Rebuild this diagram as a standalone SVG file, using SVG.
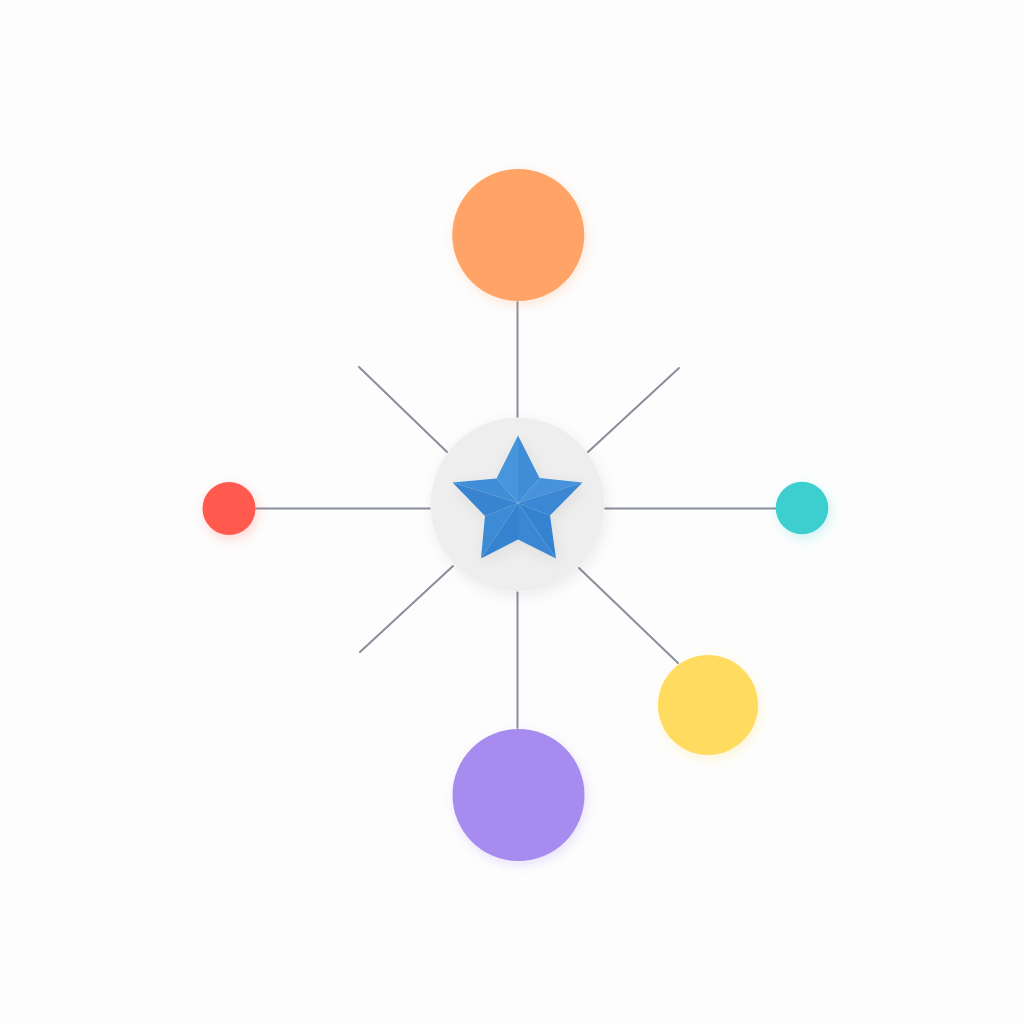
<svg xmlns="http://www.w3.org/2000/svg" width="1024" height="1024" viewBox="0 0 1024 1024">
<defs>
<filter id="sh" x="-50%" y="-50%" width="200%" height="200%">
<feGaussianBlur in="SourceAlpha" stdDeviation="7"/>
<feOffset dx="2" dy="4" result="b"/>
<feFlood flood-color="#000" flood-opacity="0.07"/>
<feComposite in2="b" operator="in"/>
<feMerge><feMergeNode/><feMergeNode in="SourceGraphic"/></feMerge>
</filter>
<filter id="glow" x="-50%" y="-50%" width="200%" height="200%">
<feGaussianBlur in="SourceGraphic" stdDeviation="6" result="g"/>
<feComponentTransfer in="g" result="g2"><feFuncA type="linear" slope="0.25"/></feComponentTransfer>
<feOffset in="g2" dx="2" dy="4" result="o"/>
<feMerge><feMergeNode in="o"/><feMergeNode in="SourceGraphic"/></feMerge>
</filter>
<style>
.ln{stroke:#8a8e9c;stroke-width:2;stroke-linecap:round;fill:none}
</style>
</defs>
<rect width="1024" height="1024" fill="#fdfdfd"/>
<g id="connectors">
<line class="ln" x1="517.5" y1="302" x2="517.5" y2="418"/>
<line class="ln" x1="517.5" y1="592" x2="517.5" y2="728"/>
<line class="ln" x1="256" y1="508.5" x2="430" y2="508.5"/>
<line class="ln" x1="605" y1="508.5" x2="776" y2="508.5"/>
<line class="ln" x1="359" y1="367" x2="447" y2="452"/>
<line class="ln" x1="679" y1="368" x2="588" y2="452"/>
<line class="ln" x1="453" y1="566" x2="360" y2="652"/>
<line class="ln" x1="579" y1="568" x2="678" y2="663"/>
</g>
<g id="center">
<circle cx="517.5" cy="504.5" r="87" fill="#eeeeef" filter="url(#sh)"/>
<g id="star" filter="url(#sh)">
<polygon points="518,435.5 539.5,478 518,503" fill="#3f8cd7"/>
<polygon points="518,435.5 496.5,478.5 518,503" fill="#4795dc"/>
<polygon points="539.5,478 582.5,482.5 518,503" fill="#4692da"/>
<polygon points="582.5,482.5 550,515.5 518,503" fill="#3a87d3"/>
<polygon points="550,515.5 556,558.5 518,503" fill="#3683d0"/>
<polygon points="556,558.5 518,539.5 518,503" fill="#3a87d3"/>
<polygon points="518,539.5 481,558.5 518,503" fill="#3683d0"/>
<polygon points="481,558.5 485,516 518,503" fill="#3d8ad5"/>
<polygon points="485,516 452.5,482.5 518,503" fill="#3884d1"/>
<polygon points="452.5,482.5 496.5,478.5 518,503" fill="#408dd8"/>
</g>
</g>
<g id="node-orange"><circle cx="518.3" cy="235" r="66" fill="#ffa466" filter="url(#glow)"/></g>
<g id="node-red"><circle cx="229" cy="508.5" r="26.5" fill="#ff5a4e" filter="url(#glow)"/></g>
<g id="node-teal"><circle cx="802" cy="508" r="26.3" fill="#3ccfcf" filter="url(#glow)"/></g>
<g id="node-yellow"><circle cx="708" cy="705" r="50" fill="#ffdc60" filter="url(#glow)"/></g>
<g id="node-purple"><circle cx="518.5" cy="795" r="66" fill="#a78bee" filter="url(#glow)"/></g>
</svg>
